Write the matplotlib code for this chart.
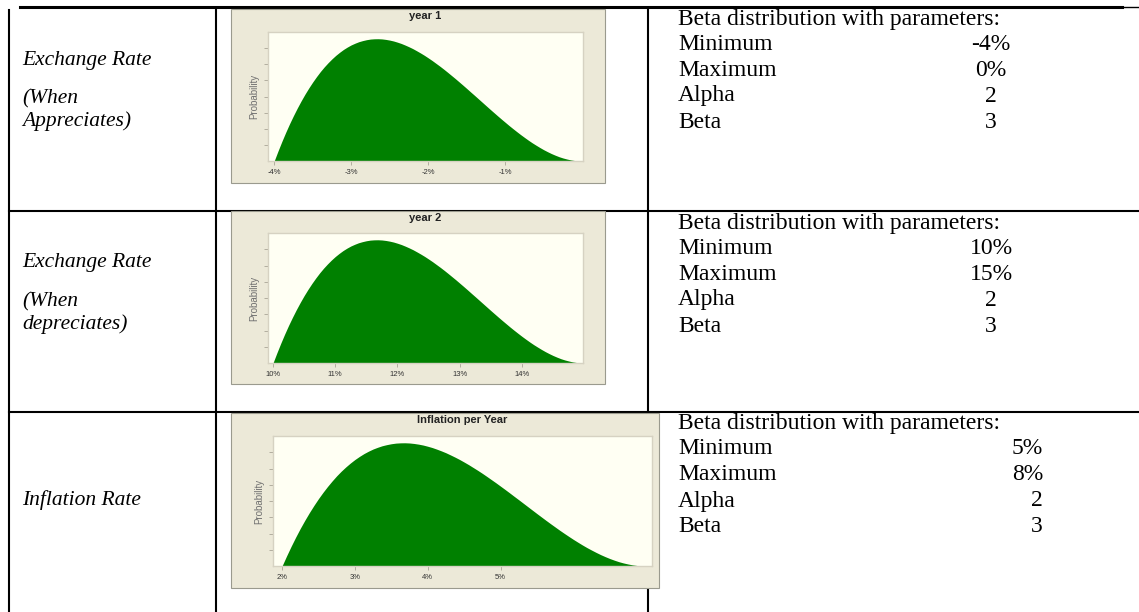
import numpy as np
import matplotlib
matplotlib.use("Agg")
import matplotlib.pyplot as plt
from matplotlib.patches import Rectangle
from matplotlib.lines import Line2D

W, H = 1139, 612

# --- data ---
# curve height (same Beta(2,3) shape in all three charts), at 1.25% steps of each range
shape_pos = np.linspace(0, 1, 81)
density = [0.000, 0.146, 0.285, 0.417, 0.542, 0.659, 0.770, 0.874, 0.972, 1.063,
           1.148, 1.227, 1.301, 1.368, 1.429, 1.485, 1.536, 1.581, 1.622, 1.657,
           1.688, 1.713, 1.735, 1.751, 1.764, 1.773, 1.777, 1.778, 1.775, 1.768,
           1.758, 1.745, 1.728, 1.709, 1.686, 1.661, 1.634, 1.603, 1.571, 1.537,
           1.500, 1.462, 1.421, 1.380, 1.337, 1.292, 1.246, 1.200, 1.152, 1.104,
           1.055, 1.005, 0.956, 0.906, 0.856, 0.806, 0.756, 0.707, 0.658, 0.610,
           0.563, 0.516, 0.471, 0.427, 0.384, 0.343, 0.303, 0.265, 0.230, 0.196,
           0.164, 0.135, 0.108, 0.084, 0.062, 0.044, 0.029, 0.016, 0.007, 0.002,
           0.000]

chart_titles = ["year 1", "year 2", "Inflation per Year"]
chart_min = [-4, 10, 2]
chart_max = [0, 15, 7]
chart_ticks = [[-4, -3, -2, -1], [10, 11, 12, 13, 14], [2, 3, 4, 5]]
chart_ticklabels = [["-4%", "-3%", "-2%", "-1%"],
                    ["10%", "11%", "12%", "13%", "14%"],
                    ["2%", "3%", "4%", "5%"]]

row_labels = [["Exchange Rate", "(When", "Appreciates)"],
              ["Exchange Rate", "(When", "depreciates)"],
              ["Inflation Rate"]]
param_header = "Beta distribution with parameters:"
param_names = ["Minimum", "Maximum", "Alpha", "Beta"]
param_values = [["-4%", "0%", "2", "3"],
                ["10%", "15%", "2", "3"],
                ["5%", "8%", "2", "3"]]

# --- layout in pixels (x, y from top-left) ---
panels = [(231, 9, 605, 183), (231, 211, 605, 384), (231, 413, 659, 588)]
plots = [(268, 32, 583, 161), (268, 233, 583, 363), (273, 436, 652, 566)]
xlims = [(-4.08, 0.01), (9.92, 14.98), (1.876, 7.08)]
row_tops = [7, 211, 412]
label_y = [[60, 99, 121], [262, 302, 324], [500]]

GREEN = "#008000"
PANEL = "#ECE9D8"
PLOTBG = "#FFFFF3"


def fx(x):
    return x / W


def fy(y):
    return 1 - y / H


fig = plt.figure(figsize=(W / 100, H / 100), dpi=100)
fig.patch.set_facecolor("white")

serif = "Liberation Serif"
sans = "Liberation Sans"

# table rules
def hline(y, x0, x1, lw):
    fig.add_artist(Line2D([fx(x0), fx(x1)], [fy(y), fy(y)], color="black",
                          lw=lw, transform=fig.transFigure, zorder=1))


def vline(x, y0, y1, lw):
    fig.add_artist(Line2D([fx(x), fx(x)], [fy(y0), fy(y1)], color="black",
                          lw=lw, transform=fig.transFigure, zorder=1))


hline(7, 20, 1122, 2.2)
hline(7, 1122, 1139, 1.0)
hline(211, 9, 1139, 1.5)
hline(412, 9, 1139, 1.5)
vline(9, 10, 612, 1.5)
vline(216, 10, 612, 1.5)
vline(648, 10, 612, 1.5)

# row labels and parameter text
for r in range(3):
    for line, yy in zip(row_labels[r], label_y[r]):
        fig.text(fx(22), fy(yy), line, family=serif, style="italic",
                 fontsize=15.5, va="center", ha="left")
    top = row_tops[r]
    fig.text(fx(678), fy(top + 12), param_header, family=serif, fontsize=17,
             va="center", ha="left")
    for k, (name, val) in enumerate(zip(param_names, param_values[r])):
        yy = top + 37 + 26 * k
        fig.text(fx(678), fy(yy), name, family=serif, fontsize=17,
                 va="center", ha="left")
        if r < 2:
            fig.text(fx(991), fy(yy), val, family=serif, fontsize=17,
                     va="center", ha="center")
        else:
            fig.text(fx(1043), fy(yy), val, family=serif, fontsize=17,
                     va="center", ha="right")

# the three distribution charts
for i in range(3):
    px0, py0, px1, py1 = panels[i]
    fig.add_artist(Rectangle((fx(px0), fy(py1)), fx(px1 - px0), (py1 - py0) / H,
                             transform=fig.transFigure, facecolor=PANEL,
                             edgecolor="#9A9A8E", lw=0.8, zorder=1.5))
    ax0, ay0, ax1, ay1 = plots[i]
    ax = fig.add_axes([fx(ax0), fy(ay1), fx(ax1 - ax0), (ay1 - ay0) / H])
    ax.set_zorder(3)
    ax.set_facecolor(PLOTBG)
    xs = chart_min[i] + shape_pos * (chart_max[i] - chart_min[i])
    ax.fill_between(xs, 0, density, color=GREEN, lw=0)
    ymax = max(density) * 1.055
    ax.set_xlim(*xlims[i])
    ax.set_ylim(0, ymax)
    ax.set_xticks(chart_ticks[i])
    ax.set_xticklabels(chart_ticklabels[i], family=sans, fontsize=5.5,
                       color="#333333")
    ax.set_yticks([ymax * k / 8 for k in range(1, 8)])
    ax.set_yticklabels([])
    ax.tick_params(axis="both", length=3, width=0.6, color="#A8A496", pad=3)
    for s in ax.spines.values():
        s.set_color("#D6D2C2")
        s.set_linewidth(1.0)
    fig.text(fx((ax0 + ax1) / 2), fy(py0 + 7), chart_titles[i], family=sans,
             fontsize=8, fontweight="bold", color="#222222",
             ha="center", va="center", zorder=4)
    fig.text(fx(ax0 - 14), fy((ay0 + ay1) / 2), "Probability", family=sans,
             fontsize=7, color="#707070", rotation=90,
             ha="center", va="center", zorder=4)

fig.savefig("out.png", dpi=100)
